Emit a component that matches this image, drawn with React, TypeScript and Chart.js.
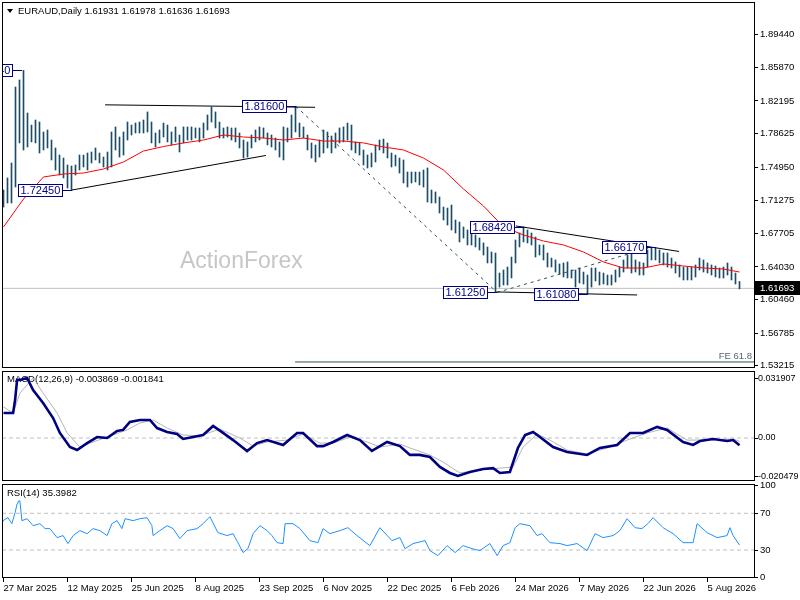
import React, { useEffect, useRef } from 'react';
import { Chart, registerables } from 'chart.js';

Chart.register(...registerables);

const FONT = "'Liberation Sans'";
Chart.defaults.font.family = FONT;

// ---------- data ----------
const symbolTitle = 'EURAUD,Daily 1.61931 1.61978 1.61636 1.61693';
const lastClose = 1.61693;

const dateLabels = ['27 Mar 2025', '12 May 2025', '25 Jun 2025', '8 Aug 2025', '23 Sep 2025', '6 Nov 2025',
  '22 Dec 2025', '6 Feb 2026', '24 Mar 2026', '7 May 2026', '22 Jun 2026', '5 Aug 2026'];
const dateIdx = [0, 16, 32, 48, 64, 80, 96, 112, 128, 144, 160, 176];

const highs = [
  1.7245, 1.7377, 1.7541, 1.8372, 1.8449, 1.8554, 1.8088, 1.7956, 1.8011, 1.7989,
  1.7880, 1.7902, 1.7792, 1.7705, 1.7628, 1.7595, 1.7519, 1.7508, 1.7519, 1.7628,
  1.7628, 1.7650, 1.7661, 1.7705, 1.7650, 1.7606, 1.7661, 1.7880, 1.7935, 1.7825,
  1.7880, 1.7989, 1.7956, 1.7978, 1.7989, 1.8011, 1.8099, 1.7989, 1.7869, 1.7902,
  1.7978, 1.7956, 1.7880, 1.7935, 1.7847, 1.7935, 1.7935, 1.7935, 1.7924, 1.7924,
  1.7978, 1.8066, 1.8153, 1.8099, 1.7989, 1.7924, 1.7935, 1.7924, 1.7924, 1.7869,
  1.7792, 1.7771, 1.7847, 1.7902, 1.7935, 1.7924, 1.7869, 1.7847, 1.7814, 1.7771,
  1.7935, 1.7924, 1.8066, 1.8160, 1.7978, 1.7935, 1.7847, 1.7760, 1.7738, 1.7792,
  1.7902, 1.7880, 1.7836, 1.7869, 1.7924, 1.7935, 1.7978, 1.7956, 1.7771, 1.7760,
  1.7683, 1.7628, 1.7650, 1.7738, 1.7792, 1.7803, 1.7760, 1.7650, 1.7628, 1.7595,
  1.7574, 1.7442, 1.7442, 1.7442, 1.7442, 1.7464, 1.7486, 1.7245, 1.7224, 1.7169,
  1.7059, 1.7048, 1.7081, 1.6917, 1.6895, 1.6841, 1.6808, 1.6775, 1.6753, 1.6720,
  1.6666, 1.6622, 1.6567, 1.6556, 1.6337, 1.6370, 1.6403, 1.6512, 1.6698, 1.6775,
  1.6842, 1.6808, 1.6775, 1.6731, 1.6644, 1.6644, 1.6556, 1.6501, 1.6480, 1.6436,
  1.6447, 1.6458, 1.6370, 1.6370, 1.6392, 1.6348, 1.6315, 1.6392, 1.6392, 1.6348,
  1.6337, 1.6315, 1.6315, 1.6370, 1.6403, 1.6480, 1.6534, 1.6556, 1.6480, 1.6458,
  1.6447, 1.6589, 1.6617, 1.6611, 1.6589, 1.6556, 1.6556, 1.6501, 1.6458, 1.6425,
  1.6403, 1.6403, 1.6403, 1.6425, 1.6501, 1.6480, 1.6447, 1.6425, 1.6414, 1.6392,
  1.6403, 1.6447, 1.6403, 1.6337, 1.6245,
];
const lows = [
  1.7059, 1.7103, 1.7103, 1.7278, 1.7760, 1.7683, 1.7716, 1.7771, 1.7760, 1.7650,
  1.7683, 1.7705, 1.7574, 1.7464, 1.7409, 1.7377, 1.7267, 1.7245, 1.7409, 1.7464,
  1.7497, 1.7464, 1.7541, 1.7574, 1.7541, 1.7497, 1.7464, 1.7497, 1.7683, 1.7606,
  1.7628, 1.7792, 1.7847, 1.7869, 1.7869, 1.7869, 1.7880, 1.7760, 1.7716, 1.7760,
  1.7825, 1.7771, 1.7738, 1.7771, 1.7661, 1.7760, 1.7792, 1.7792, 1.7814, 1.7771,
  1.7814, 1.7902, 1.7989, 1.7924, 1.7814, 1.7814, 1.7825, 1.7792, 1.7771, 1.7705,
  1.7595, 1.7606, 1.7705, 1.7771, 1.7792, 1.7814, 1.7738, 1.7716, 1.7683, 1.7606,
  1.7574, 1.7771, 1.7814, 1.7880, 1.7825, 1.7814, 1.7683, 1.7595, 1.7552, 1.7606,
  1.7650, 1.7705, 1.7650, 1.7705, 1.7760, 1.7771, 1.7792, 1.7683, 1.7650, 1.7628,
  1.7519, 1.7486, 1.7497, 1.7552, 1.7683, 1.7650, 1.7595, 1.7497, 1.7508, 1.7431,
  1.7322, 1.7278, 1.7322, 1.7333, 1.7300, 1.7278, 1.7114, 1.7103, 1.7103, 1.6994,
  1.6917, 1.6862, 1.6808, 1.6775, 1.6677, 1.6720, 1.6644, 1.6644, 1.6622, 1.6589,
  1.6534, 1.6447, 1.6447, 1.6125, 1.6184, 1.6206, 1.6206, 1.6283, 1.6447, 1.6622,
  1.6677, 1.6666, 1.6644, 1.6512, 1.6534, 1.6480, 1.6403, 1.6403, 1.6348, 1.6326,
  1.6294, 1.6283, 1.6283, 1.6184, 1.6228, 1.6217, 1.6108, 1.6184, 1.6250, 1.6206,
  1.6217, 1.6206, 1.6206, 1.6239, 1.6294, 1.6348, 1.6392, 1.6337, 1.6348, 1.6315,
  1.6315, 1.6403, 1.6480, 1.6480, 1.6447, 1.6425, 1.6403, 1.6392, 1.6337, 1.6294,
  1.6261, 1.6261, 1.6261, 1.6294, 1.6370, 1.6348, 1.6337, 1.6315, 1.6294, 1.6283,
  1.6283, 1.6315, 1.6261, 1.6217, 1.6164,
];

const maIdx = [0, 5, 10, 15, 20, 25, 30, 35, 40, 45, 50, 55, 60, 65, 70, 75, 80, 85, 90,
  95, 100, 105, 110, 115, 120, 125, 130, 135, 140, 145, 150, 155, 160, 165, 170, 175, 180, 184];
const maVals = [1.6841, 1.7147, 1.7388, 1.7420, 1.7431, 1.7475, 1.7552, 1.7672, 1.7721, 1.7760,
  1.7792, 1.7847, 1.7825, 1.7814, 1.7792, 1.7814, 1.7781, 1.7781, 1.7760, 1.7716,
  1.7683, 1.7595, 1.7464, 1.7256, 1.7070, 1.6841, 1.6753, 1.6687, 1.6644, 1.6567,
  1.6458, 1.6392, 1.6392, 1.6436, 1.6414, 1.6392, 1.6381, 1.6348];

const priceTicks = [1.8944, 1.8587, 1.82195, 1.78625, 1.7495, 1.71275, 1.67705, 1.6403, 1.6046, 1.56785, 1.53215];

// price labels: bar index of the swing, price
const labelIdx = [4.6, 17, 73.1, 123.4, 130.2, 146.2, 163.2];
const labelPrices = [1.8554, 1.7245, 1.8160, 1.6125, 1.6842, 1.6108, 1.6617];

// trend lines [bar index, price]
const topLine = [[25.4, 1.8177], [77.9, 1.8150]];
const risingLine = [[17.1, 1.7245], [65.6, 1.7623]];
const fallingLine = [[128.1, 1.6852], [168.9, 1.6573]];
const floorLine = [[123.4, 1.6130], [158.4, 1.6097]];
const dashDownLine = [[73.1, 1.8160], [123.4, 1.6125]];
const dashUpLine = [[123.4, 1.6125], [161.9, 1.6617]];
const feLevel = 1.5364;
const feStart = 72.9;
const feText = 'FE 61.8';

const macdTitle = 'MACD(12,26,9) -0.003869 -0.001841';
const macdTicks = [0.031907, 0, -0.020479];
const macdTickLabels = ['0.031907', '0.00', '-0.020479'];
const macdPoints = [[0, 0.0133], [2.4, 0.0133], [2.9, 0.0202], [3.4, 0.0309], [4.1, 0.0309], [5.9, 0.0319],
  [7.4, 0.0255], [9.9, 0.0186], [12.4, 0.0106], [14.1, 0.0027], [16.6, -0.0048], [18.4, -0.0064],
  [20.9, -0.0027], [23.4, 0.0005], [25.9, 0], [28.4, 0.0037], [29.9, 0.0043], [31.6, 0.0085],
  [34.1, 0.0096], [36.6, 0.0096], [38.4, 0.0053], [40.9, 0.0032], [43.4, 0.0021], [44.9, -0.0005],
  [47.4, 0.0005], [49.9, 0.0016], [52.4, 0.0064], [54.9, 0.0027], [57.4, -0.0011], [60.9, -0.0069],
  [63.4, -0.0027], [65.9, -0.0011], [69.9, -0.0037], [73.4, 0.0027], [74.9, 0.0027], [78.4, -0.0043],
  [79.9, -0.0043], [82.4, -0.0021], [85.9, 0.0016], [89.1, -0.0011], [92.1, -0.0069], [95.9, -0.0021],
  [99.1, -0.0043], [101.6, -0.0090], [104.1, -0.0090], [106.6, -0.0101], [109.1, -0.0154], [111.6, -0.0186],
  [113.6, -0.0202], [116.6, -0.0181], [119.9, -0.0165], [122.4, -0.0160], [124.1, -0.0186], [126.6, -0.0181],
  [128.6, -0.0053], [130.4, 0.0016], [132.4, 0.0032], [134.1, 0.0005], [137.4, -0.0048], [140.9, -0.0074],
  [145.9, -0.0090], [149.1, -0.0053], [153.4, -0.0037], [156.6, 0.0027], [159.9, 0.0027], [163.4, 0.0059],
  [165.9, 0.0043], [169.9, -0.0021], [172.4, -0.0037], [174.1, -0.0016], [177.4, -0.0005], [180.9, -0.0016],
  [182.4, -0.0011], [184, -0.00387]];
const signalPoints = [[0, 0.0165], [2.4, 0.0133], [4.1, 0.0239], [7.4, 0.0319], [9.9, 0.0239], [13.4, 0.0133],
  [15.9, 0.0027], [19.1, -0.0048], [21.6, -0.0027], [25.9, 0.0005], [30.9, 0.0043], [34.1, 0.0080],
  [37.4, 0.0096], [40.9, 0.0053], [44.9, 0.0016], [49.1, 0.0011], [54.1, 0.0048], [59.1, 0],
  [62.4, -0.0043], [65.9, -0.0021], [70.9, -0.0011], [74.9, 0.0021], [79.1, -0.0027], [82.4, -0.0027],
  [86.6, 0.0005], [90.9, -0.0021], [94.1, -0.0048], [99.1, -0.0032], [101.6, -0.0053], [106.6, -0.0090],
  [109.9, -0.0128], [114.1, -0.0186], [119.1, -0.0170], [124.1, -0.0160], [127.4, -0.0154], [129.9, -0.0048],
  [133.4, 0.0021], [136.6, -0.0011], [140.9, -0.0064], [145.9, -0.0085], [150.9, -0.0053], [155.9, -0.0011],
  [160.9, 0.0027], [165.9, 0.0053], [170.9, -0.0011], [175.9, -0.0011], [182.4, -0.0005], [184, -0.00184]];

const rsiTitle = 'RSI(14) 35.3982';
const rsiTicks = [100, 70, 30, 0];
const rsiLevels = [70, 30];
const rsiPoints = [[-0.4, 58.7], [-0.1, 62.0], [1.1, 65.2], [2.1, 58.7], [2.9, 70.7], [3.4, 80.4], [3.6, 82.6],
  [4.1, 83.7], [4.6, 62.0], [5.9, 64.1], [7.4, 56.5], [9.1, 58.7], [10.4, 53.3], [11.6, 53.3], [13.4, 43.5],
  [14.9, 45.7], [16.1, 37.0], [17.4, 45.7], [19.1, 51.1], [20.9, 47.8], [22.4, 53.3], [24.1, 51.1],
  [25.9, 45.7], [27.1, 58.7], [28.4, 62.0], [29.6, 53.3], [30.4, 64.1], [32.4, 62.0], [34.1, 64.1],
  [35.9, 65.2], [37.1, 56.5], [37.4, 45.7], [39.1, 51.1], [40.9, 56.5], [42.4, 53.3], [44.1, 42.4],
  [45.9, 51.1], [48.4, 53.3], [49.9, 58.7], [51.6, 66.3], [53.6, 48.9], [55.9, 45.7], [57.4, 47.8],
  [58.6, 38.0], [59.9, 27.2], [61.1, 31.5], [62.4, 47.8], [64.1, 56.5], [65.9, 51.1], [67.1, 45.7],
  [68.4, 38.0], [69.9, 37.0], [70.4, 58.7], [72.4, 58.7], [74.1, 53.3], [76.6, 40.2], [78.6, 38.0],
  [79.9, 53.3], [81.6, 47.8], [84.1, 51.1], [86.1, 54.3], [88.4, 45.7], [90.9, 37.0], [91.6, 34.8],
  [94.1, 54.3], [97.1, 40.2], [99.1, 43.5], [100.4, 31.5], [102.4, 37.0], [105.4, 40.2], [106.6, 29.3],
  [108.6, 23.9], [110.9, 34.8], [112.9, 27.2], [114.9, 34.8], [117.1, 31.5], [119.1, 29.3], [121.6, 37.0],
  [123.4, 23.9], [124.9, 34.8], [126.6, 38.0], [127.9, 54.3], [129.1, 58.7], [131.6, 56.5], [133.4, 45.7],
  [134.6, 47.8], [136.6, 38.0], [139.1, 37.0], [140.9, 34.8], [143.4, 37.0], [145.9, 29.3], [147.9, 47.8],
  [149.9, 43.5], [152.4, 45.7], [154.1, 51.1], [155.9, 64.1], [157.9, 54.3], [159.6, 53.3], [161.1, 58.7],
  [162.4, 65.2], [164.9, 54.3], [167.4, 47.8], [169.9, 38.0], [172.4, 38.0], [173.4, 58.7], [175.9, 48.9],
  [178.4, 43.5], [180.9, 45.7], [181.6, 54.3], [182.4, 45.7], [184, 35.4]];

// ---------- styling ----------
const X_MIN = -0.375;
const X_MAX = 187.625;
const BAR = '#1d4d66';
const NAVY = '#000080';
const DASH = '#2f4f4f';
const LEVEL = '#c0c0c0';
const TICK_FONT = { family: FONT, size: 9.5 };

const pts = (arr: number[][]) => arr.map(([x, y]) => ({ x, y }));

function lineDs(data: any[], color: string, width = 1, dash: number[] = [], order = 1) {
  return {
    type: 'line', data, borderColor: color, borderWidth: width, borderDash: dash,
    pointRadius: 0, fill: false, tension: 0, order,
  };
}

function xScale(show: boolean) {
  return {
    type: 'linear', min: X_MIN, max: X_MAX, display: show, offset: false,
    grid: { display: show, drawOnChartArea: false, drawTicks: true, tickLength: 4, color: '#000' },
    border: { display: false },
    ticks: {
      autoSkip: false, maxRotation: 0, minRotation: 0, align: 'start', padding: 1,
      color: '#000', font: TICK_FONT,
      callback: (_v: any, i: number) => dateLabels[i],
    },
    afterBuildTicks: (s: any) => { s.ticks = dateIdx.map((v) => ({ value: v })); },
    afterFit: (s: any) => { s.paddingLeft = 0; s.paddingRight = 0; if (show) s.height = 22; },
  };
}

function yScale(min: number, max: number, ticks: number[], fmt: (v: number, i: number) => string,
  fontSize = 9.5, pad = 2) {
  return {
    type: 'linear', position: 'right', min, max,
    grid: { drawOnChartArea: false, drawTicks: true, tickLength: 4, color: '#000' },
    border: { display: false },
    ticks: {
      color: '#000', font: { family: FONT, size: fontSize }, padding: pad,
      callback: (v: number, i: number) => fmt(v, i),
    },
    afterBuildTicks: (s: any) => { s.ticks = ticks.map((v) => ({ value: v })); },
    afterFit: (s: any) => { s.width = 46; s.paddingTop = 0; s.paddingBottom = 0; },
  };
}

const framePlugin = {
  id: 'frame',
  afterDraw(chart: any) {
    const { ctx, chartArea: a } = chart;
    ctx.save();
    ctx.strokeStyle = '#000';
    ctx.lineWidth = 1;
    const x1 = Math.round(a.left) + 0.5;
    const y1 = Math.round(a.top) + 0.5;
    const x2 = Math.round(a.right) + 0.5;
    const y2 = Math.round(a.bottom) - 0.5;
    ctx.strokeRect(x1, y1, x2 - x1, y2 - y1);
    ctx.restore();
  },
};

function titlePlugin(text: string, dy: number) {
  return {
    id: 'paneTitle',
    beforeDatasetsDraw(chart: any) {
      const { ctx, chartArea: a } = chart;
      ctx.save();
      ctx.font = `9.5px ${FONT}`;
      ctx.fillStyle = '#000';
      ctx.textBaseline = 'middle';
      ctx.fillText(text, 7, a.top + dy);
      ctx.restore();
    },
  };
}

const mainDecor = {
  id: 'mainDecor',
  beforeDatasetsDraw(chart: any) {
    const { ctx } = chart;
    ctx.save();
    ctx.font = `23px ${FONT}`;
    ctx.fillStyle = '#c6c6c6';
    ctx.textBaseline = 'alphabetic';
    ctx.fillText('ActionForex', 180, 268);
    ctx.restore();
  },
  afterDatasetsDraw(chart: any) {
    const { ctx, chartArea: a, scales } = chart;
    const xs = scales.x;
    const ys = scales.y;
    ctx.save();
    ctx.beginPath();
    ctx.rect(a.left, a.top, a.right - a.left, a.bottom - a.top);
    ctx.clip();
    // swing price labels
    ctx.font = `11px ${FONT}`;
    ctx.textBaseline = 'middle';
    for (let i = 0; i < labelIdx.length; i++) {
      const text = labelPrices[i].toFixed(5);
      const px = Math.round(xs.getPixelForValue(labelIdx[i]));
      const py = Math.round(ys.getPixelForValue(labelPrices[i]));
      const w = Math.ceil(ctx.measureText(text).width) + 4;
      const right = px - 10;
      const left = right - w;
      ctx.fillStyle = '#fff';
      ctx.fillRect(left, py - 6, w, 13);
      ctx.strokeStyle = NAVY;
      ctx.lineWidth = 1;
      ctx.strokeRect(left + 0.5, py - 5.5, w, 12);
      ctx.beginPath();
      ctx.moveTo(right, py + 0.5);
      ctx.lineTo(px, py + 0.5);
      ctx.stroke();
      ctx.fillStyle = NAVY;
      ctx.fillText(text, left + 2.5, py + 1);
    }
    // FE text
    ctx.font = `9.5px ${FONT}`;
    ctx.fillStyle = '#56636f';
    ctx.textAlign = 'right';
    ctx.textBaseline = 'alphabetic';
    ctx.fillText(feText, a.right - 2, ys.getPixelForValue(feLevel) - 3);
    ctx.restore();

    // header
    ctx.save();
    ctx.fillStyle = '#000';
    ctx.beginPath();
    ctx.moveTo(7, 9);
    ctx.lineTo(13, 9);
    ctx.lineTo(10, 13);
    ctx.closePath();
    ctx.fill();
    ctx.font = `9.5px ${FONT}`;
    ctx.textBaseline = 'middle';
    ctx.fillText(symbolTitle, 18, 11);
    ctx.restore();
  },
  afterDraw(chart: any) {
    const { ctx, chartArea: a, scales } = chart;
    const py = Math.round(scales.y.getPixelForValue(lastClose));
    ctx.save();
    ctx.fillStyle = '#000';
    ctx.fillRect(a.right + 1, py - 7, 800 - a.right - 1, 14);
    ctx.fillStyle = '#fff';
    ctx.font = `9.5px ${FONT}`;
    ctx.textBaseline = 'middle';
    ctx.fillText(lastClose.toFixed(5), a.right + 6, py + 0.5);
    ctx.restore();
  },
};

const baseOptions = {
  responsive: false,
  animation: false,
  events: [],
  plugins: { legend: { display: false }, tooltip: { enabled: false } },
};

function makeMain(canvas: HTMLCanvasElement) {
  const bars = highs.map((h, i) => ({ x: i, y: [lows[i], h] }));
  return new Chart(canvas, {
    type: 'bar',
    data: {
      datasets: [
        lineDs(maIdx.map((x, i) => ({ x, y: maVals[i] })), '#ff0000', 1, [], 0),
        lineDs(pts(topLine), '#000'),
        lineDs(pts(risingLine), '#000'),
        lineDs(pts(fallingLine), '#000'),
        lineDs(pts(floorLine), '#000'),
        lineDs(pts(dashDownLine), DASH, 1, [3, 4]),
        lineDs(pts(dashUpLine), DASH, 1, [3, 4]),
        {
          type: 'bar', data: bars, backgroundColor: BAR, borderWidth: 0,
          barThickness: 1, order: 2,
        },
        lineDs([{ x: X_MIN, y: lastClose }, { x: X_MAX, y: lastClose }], LEVEL, 1, [], 3),
        lineDs([{ x: feStart, y: feLevel }, { x: X_MAX, y: feLevel }], DASH, 1, [], 3),
      ],
    } as any,
    options: {
      ...baseOptions,
      layout: { padding: { left: 2, right: 0, top: 2, bottom: 1 } },
      scales: {
        x: xScale(false),
        y: yScale(1.5298, 1.9302, priceTicks, (v) => v.toFixed(5)),
      },
    } as any,
    plugins: [mainDecor, framePlugin],
  });
}

function makeMacd(canvas: HTMLCanvasElement) {
  return new Chart(canvas, {
    type: 'line',
    data: {
      datasets: [
        lineDs(pts(macdPoints), NAVY, 2.6, [], 0),
        lineDs(pts(signalPoints), '#b4b4b4', 1, [], 1),
        lineDs([{ x: X_MIN, y: 0 }, { x: X_MAX, y: 0 }], LEVEL, 1, [4, 3], 2),
      ],
    } as any,
    options: {
      ...baseOptions,
      layout: { padding: { left: 2, right: 0, top: 2, bottom: 1 } },
      scales: {
        x: xScale(false),
        y: yScale(-0.02287, 0.03564, macdTicks, (_v, i) => macdTickLabels[i], 9, 0),
      },
    } as any,
    plugins: [titlePlugin(macdTitle, 8), framePlugin],
  });
}

function makeRsi(canvas: HTMLCanvasElement) {
  return new Chart(canvas, {
    type: 'line',
    data: {
      datasets: [
        lineDs(pts(rsiPoints), '#1e90ff', 1, [], 0),
        ...rsiLevels.map((lv) => lineDs([{ x: X_MIN, y: lv }, { x: X_MAX, y: lv }], LEVEL, 1, [4, 3], 2)),
      ],
    } as any,
    options: {
      ...baseOptions,
      layout: { padding: { left: 2, right: 0, top: 2, bottom: 0 } },
      scales: {
        x: xScale(true),
        y: yScale(-0.5, 101.9, rsiTicks, (v) => String(v)),
      },
    } as any,
    plugins: [titlePlugin(rsiTitle, 9), framePlugin],
  });
}

export default function App() {
  const mainRef = useRef<HTMLCanvasElement>(null);
  const macdRef = useRef<HTMLCanvasElement>(null);
  const rsiRef = useRef<HTMLCanvasElement>(null);

  useEffect(() => {
    document.body.style.margin = '0';
    const charts = [
      makeMain(mainRef.current as HTMLCanvasElement),
      makeMacd(macdRef.current as HTMLCanvasElement),
      makeRsi(rsiRef.current as HTMLCanvasElement),
    ];
    return () => charts.forEach((c) => c.destroy());
  }, []);

  return (
    <div style={{ position: 'relative', width: 800, height: 600, background: '#fff', overflow: 'hidden' }}>
      <canvas ref={mainRef} width={800} height={369} style={{ position: 'absolute', left: 0, top: 0 }} />
      <canvas ref={macdRef} width={800} height={113} style={{ position: 'absolute', left: 0, top: 369 }} />
      <canvas ref={rsiRef} width={800} height={118} style={{ position: 'absolute', left: 0, top: 482 }} />
    </div>
  );
}
